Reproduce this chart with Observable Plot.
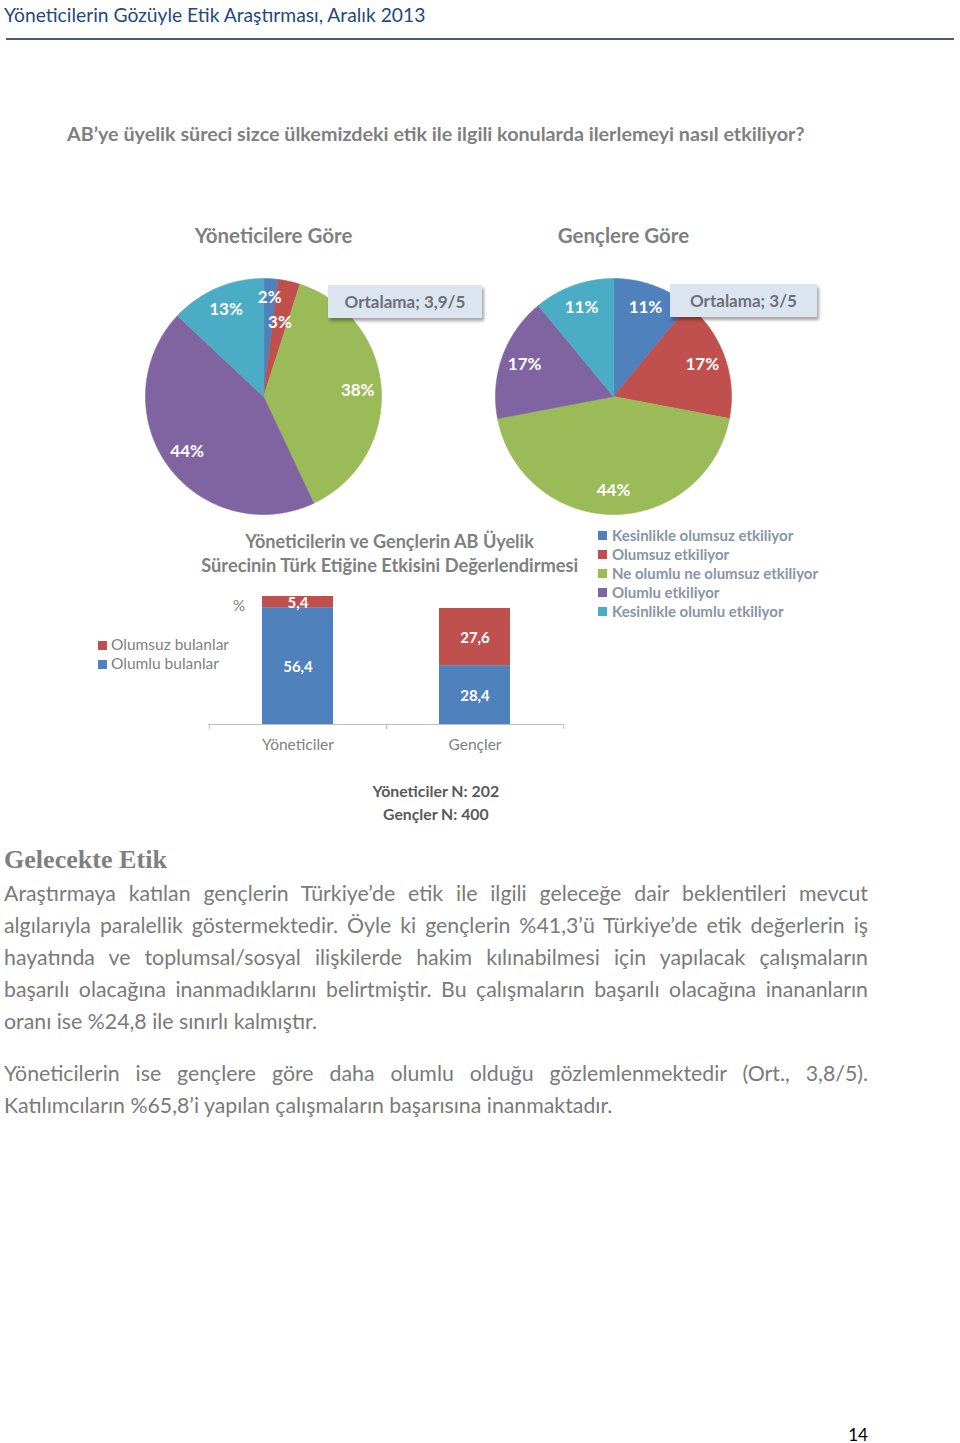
<!DOCTYPE html>
<html><head><meta charset="utf-8">
<script src="https://cdn.jsdelivr.net/npm/d3@7"></script>
<script src="https://cdn.jsdelivr.net/npm/@observablehq/plot@0.6"></script>
<style>
body{margin:0;background:#fff;}
#page{position:relative;width:960px;height:1443px;overflow:hidden;font-family:Lato,"Open Sans",sans-serif;background:#fff;}
.abs{position:absolute;white-space:nowrap;line-height:1;}
.plot{position:absolute;}
.jline{position:absolute;white-space:nowrap;text-align:justify;text-align-last:justify;line-height:1;}
</style></head><body><div id="page"></div>
<script>
// ---------- data ----------
const sliceCategories = ["Kesinlikle olumsuz etkiliyor","Olumsuz etkiliyor","Ne olumlu ne olumsuz etkiliyor","Olumlu etkiliyor","Kesinlikle olumlu etkiliyor"];
const sliceColors = ["#4F81BD","#C0504D","#9BBB59","#8064A2","#4BACC6"];
const pieGroups = ["Yöneticilere Göre","Gençlere Göre"];
const yoneticiPercents = [2,3,38,44,13];
const genclerPercents = [11,17,44,17,11];
const averageLabels = ["Ortalama; 3,9/5","Ortalama; 3/5"];

const barCategories = ["Yöneticiler","Gençler"];
const barSeries = ["Olumlu bulanlar","Olumsuz bulanlar"];
const olumluValues = [56.4,28.4];
const olumsuzValues = [5.4,27.6];
const barColors = ["#4F81BD","#C0504D"];
const barTitleLines = ["Yöneticilerin ve Gençlerin AB Üyelik","Sürecinin Türk Etiğine Etkisini Değerlendirmesi"];
const sampleSizes = ["Yöneticiler N: 202","Gençler N: 400"];

const headerText = "Yöneticilerin Gözüyle Etik Araştırması, Aralık 2013";
const questionText = "AB’ye üyelik süreci sizce ülkemizdeki etik ile ilgili konularda ilerlemeyi nasıl etkiliyor?";
const sectionTitle = "Gelecekte Etik";
const paragraph1 = ["Araştırmaya katılan gençlerin Türkiye’de etik ile ilgili geleceğe dair beklentileri mevcut",
 "algılarıyla paralellik göstermektedir. Öyle ki gençlerin %41,3’ü Türkiye’de etik değerlerin iş",
 "hayatında ve toplumsal/sosyal ilişkilerde hakim kılınabilmesi için yapılacak çalışmaların",
 "başarılı olacağına inanmadıklarını belirtmiştir. Bu çalışmaların başarılı olacağına inananların",
 "oranı ise %24,8 ile sınırlı kalmıştır."];
const paragraph2 = ["Yöneticilerin ise gençlere göre daha olumlu olduğu gözlemlenmektedir (Ort., 3,8/5).",
 "Katılımcıların %65,8’i yapılan çalışmaların başarısına inanmaktadır."];
const pageNumber = "14";

// ---------- helpers ----------
const page = document.getElementById("page");
const FONT = 'Lato,"Open Sans",sans-serif';
const VOFF = 0.5;
function measure(text, size, weight, family){
  const c = measure.c || (measure.c = document.createElement("canvas").getContext("2d"));
  c.font = `${weight} ${size}px ${family}`;
  return c.measureText(text).width;
}
function place(text, o){
  const d = document.createElement("div");
  d.className = "abs";
  d.textContent = text;
  const family = o.family || FONT, weight = o.weight || 400;
  let size = o.size;
  if (o.width) size = Math.min(o.maxSize || 40, size * o.width / measure(text, size, weight, family));
  d.style.fontFamily = family; d.style.fontWeight = weight; d.style.fontSize = size + "px";
  d.style.color = o.color || "#7f7f7f";
  const w = measure(text, size, weight, family);
  const left = o.anchor === "middle" ? o.x - w/2 : o.x;
  d.style.left = left + "px";
  d.style.top = (o.y - VOFF*size) + "px";
  page.appendChild(d);
  return d;
}

// ---------- header ----------
place(headerText, {x:4, y:15, size:19, width:423, color:"#1F497D"});
const hr = document.createElement("div");
Object.assign(hr.style, {position:"absolute", left:"6px", top:"38px", width:"948px", height:"2px", background:"#4a5d73"});
page.appendChild(hr);
place(questionText, {x:67, y:134, size:19, weight:700, width:738, color:"#7f7f7f"});

// ---------- pies ----------
const pieRows = [], pieLabels = [];
[yoneticiPercents, genclerPercents].forEach((vals, gi) => {
  const arcs = d3.pie().sort(null).value(d => d)(vals);
  arcs.forEach((p, i) => {
    const id = gi + "-" + i, group = pieGroups[gi], cat = sliceCategories[i];
    pieRows.push({group, cat, id, x:0, y:0});
    const n = Math.max(2, Math.ceil((p.endAngle - p.startAngle) / (Math.PI/180)));
    for (let k = 0; k <= n; k++) {
      const a = p.startAngle + (p.endAngle - p.startAngle) * k / n;
      pieRows.push({group, cat, id, x:Math.sin(a), y:Math.cos(a)});
    }
    const mid = (p.startAngle + p.endAngle) / 2;
    const rf = vals[i] < 5 ? (i % 2 === 0 ? 0.84 : 0.64) : 0.8;
    pieLabels.push({group, x:rf*Math.sin(mid), y:rf*Math.cos(mid), text:vals[i] + "%"});
  });
});

const piePlot = Plot.plot({
  width:960, height:316,
  marginLeft:145, marginRight:229, marginTop:78, marginBottom:2,
  fx:{domain:pieGroups, paddingInner:114/350, paddingOuter:0, label:null},
  x:{domain:[-1,1], axis:null},
  y:{domain:[-1,1], axis:null},
  color:{domain:sliceCategories, range:sliceColors},
  style:{fontFamily:FONT, overflow:"visible", background:"transparent"},
  marks:[
    Plot.axisFx({anchor:"top", tickSize:0, dx:10, dy:-27, fontSize:20.5, fontWeight:"bold", fill:"#7f7f7f", label:null}),
    Plot.line(pieRows, {fx:"group", x:"x", y:"y", z:"id", fill:"cat", stroke:"cat", strokeWidth:0.6, curve:"linear-closed"}),
    Plot.text(pieLabels, {fx:"group", x:"x", y:"y", text:"text", fill:"white", fontSize:17, fontWeight:"bold"})
  ]
});
piePlot.classList.add("plot");
piePlot.style.left = "0px"; piePlot.style.top = "200px";
page.appendChild(piePlot);

// average callouts
[[328,285,154],[670,284,147]].forEach(([l,t,w], i) => {
  const b = document.createElement("div");
  Object.assign(b.style, {position:"absolute", left:l+"px", top:t+"px", width:w+"px", height:"33px",
    background:"#dce4ef", boxShadow:"2px 3px 3px rgba(0,0,0,0.35)", display:"flex", alignItems:"center",
    justifyContent:"center", fontFamily:FONT, fontWeight:700, fontSize:"17px", color:"#6a717b", whiteSpace:"nowrap"});
  b.textContent = averageLabels[i];
  page.appendChild(b);
});

// pie legend
sliceCategories.forEach((c, i) => {
  const y = 535 + i*19;
  const s = document.createElement("div");
  Object.assign(s.style, {position:"absolute", left:"598px", top:(y-4.5)+"px", width:"9px", height:"9px", background:sliceColors[i]});
  page.appendChild(s);
  place(c, {x:612, y:y, size:15, weight:700, color:"#8795a6"});
});

// ---------- bar chart ----------
barTitleLines.forEach((t, i) => place(t, {x:390, y:541 + i*24, size:18, weight:700, anchor:"middle", width:i ? 378 : 290, color:"#7f7f7f"}));
place("%", {x:239, y:605, size:15, anchor:"middle", color:"#7f7f7f"});
[["Olumsuz bulanlar", barColors[1]],["Olumlu bulanlar", barColors[0]]].forEach(([t, col], i) => {
  const y = 645 + i*19;
  const s = document.createElement("div");
  Object.assign(s.style, {position:"absolute", left:"98px", top:(y-4.5)+"px", width:"9px", height:"9px", background:col});
  page.appendChild(s);
  place(t, {x:111, y:y, size:15.5, color:"#7f7f7f"});
});

const barRows = [];
barSeries.forEach((s, si) => barCategories.forEach((c, ci) => barRows.push({cat:c, series:s, value:(si ? olumsuzValues : olumluValues)[ci]})));
const step = (563 - 208) / barCategories.length;
const fmt = v => v.toFixed(1).replace(".", ",");

const barPlot = Plot.plot({
  width:600, height:260,
  marginLeft:208, marginRight:37, marginTop:79, marginBottom:36,
  x:{domain:barCategories, padding:0},
  y:{domain:[0,70], axis:null},
  color:{domain:barSeries, range:barColors},
  style:{fontFamily:FONT, overflow:"visible", background:"transparent"},
  marks:[
    Plot.barY(barRows, {x:"cat", y:"value", fill:"series", order:null, insetLeft:53, insetRight:53}),
    Plot.text(barRows, Plot.stackY({x:"cat", y:"value", z:"series", order:null, text:d => fmt(d.value), fill:"white", fontSize:15, fontWeight:"bold", dy:1.5})),
    Plot.ruleY([0], {stroke:"#bfbfbf"}),
    Plot.ruleX(barCategories, {x:d => d, y1:0, y2:-2.5, dx:-step/2, stroke:"#bfbfbf"}),
    Plot.ruleX(barCategories, {x:d => d, y1:0, y2:-2.5, dx:step/2, stroke:"#bfbfbf"}),
    Plot.axisX({tickSize:0, tickPadding:14, fontSize:15.5, fill:"#7f7f7f", label:null})
  ]
});
barPlot.classList.add("plot");
barPlot.style.left = "0px"; barPlot.style.top = "500px";
page.appendChild(barPlot);

sampleSizes.forEach((t, i) => place(t, {x:436, y:791 + i*23, size:15, weight:700, anchor:"middle", width:i ? 106 : 127, color:"#595959"}));

// ---------- body text ----------
place(sectionTitle, {x:4, y:860, size:24, weight:700, family:'"Liberation Serif","DejaVu Serif",serif', width:163, color:"#7f7f7f"});
const bodySize = 21.3;
function para(lines, y0){
  lines.forEach((t, i) => {
    const d = document.createElement("div");
    d.className = "jline";
    d.textContent = t;
    Object.assign(d.style, {left:"4px", top:(y0 + i*32 - VOFF*bodySize)+"px", fontFamily:FONT, fontSize:bodySize+"px", color:"#7a7a7a"});
    if (i < lines.length - 1) d.style.width = "864px"; else d.style.textAlignLast = "left";
    page.appendChild(d);
  });
}
para(paragraph1, 894);
para(paragraph2, 1074);
place(pageNumber, {x:858, y:1434, size:17, anchor:"middle", color:"#000"});
</script></body></html>
